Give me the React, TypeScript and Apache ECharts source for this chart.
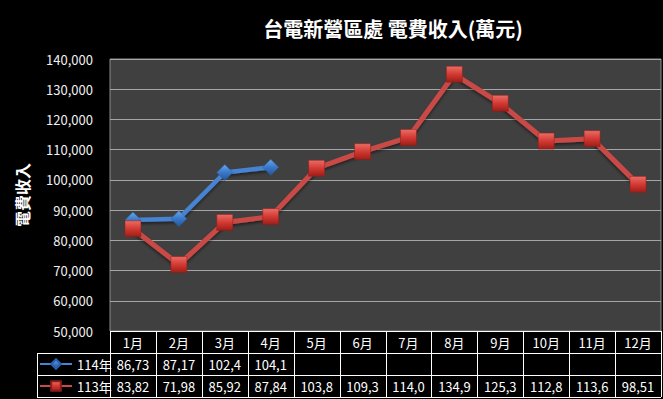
import React, { useEffect, useRef } from 'react';
import * as echarts from 'echarts';

const months = ['1月', '2月', '3月', '4月', '5月', '6月', '7月', '8月', '9月', '10月', '11月', '12月'];
const name114 = '114年';
const name113 = '113年';
const values114 = [86735, 87175, 102450, 104150];
const values113 = [83825, 71985, 85925, 87845, 103850, 109350, 114050, 134950, 125350, 112850, 113650, 98515];
const yMin = 50000;
const yMax = 140000;
const yStep = 10000;
const titleText = '台電新營區處 電費收入(萬元)';
const yAxisTitle = '電費收入';

const FONT = '"Noto Sans CJK TC", "Noto Sans", sans-serif';

// layout
const GL = 110;
const GT = 59;
const GW = 551;
const GH = 272;
const ROW = 22;
const LEG_L = 37;

const fmtCell = (v: number | undefined) =>
  v === undefined ? '' : v.toLocaleString('en-US').slice(0, 5);

export default function App() {
  const ref = useRef<HTMLDivElement>(null);
  useEffect(() => {
    if (!ref.current) return;
    const chart = echarts.init(ref.current, undefined, { renderer: 'svg' });
    const R = GL + GW;
    const B = GT + GH;
    const colW = GW / months.length;
    const lines: any[] = [];
    const ln = (x1: number, y1: number, x2: number, y2: number) =>
      lines.push({
        type: 'line',
        z: 100,
        shape: { x1, y1, x2, y2 },
        style: { stroke: '#ffffff', lineWidth: 1 },
        silent: true,
      });
    ln(GL, B + 0.5, R, B + 0.5);
    for (let r = 1; r <= 3; r++) ln(LEG_L, B + r * ROW + 0.5, R, B + r * ROW + 0.5);
    for (let i = 0; i <= months.length; i++) {
      const x = Math.round(GL + i * colW) + 0.5;
      ln(x, B, x, B + 3 * ROW);
    }
    ln(LEG_L + 0.5, B + ROW, LEG_L + 0.5, B + 3 * ROW);

    const catAxis = (offset: number, fmt: (i: number) => string) => ({
      type: 'category',
      data: months,
      position: 'bottom',
      offset,
      boundaryGap: true,
      axisLine: { show: false },
      axisTick: { show: false },
      splitLine: { show: false },
      axisLabel: {
        interval: 0,
        margin: 11,
        verticalAlign: 'middle',
        color: '#ffffff',
        fontSize: 13,
        fontFamily: FONT,
        formatter: (_v: string, i: number) => fmt(i),
      },
    });

    const redMarker = new echarts.graphic.LinearGradient(0, 0, 0, 1, [
      { offset: 0, color: '#ea6d66' },
      { offset: 0.5, color: '#d23a33' },
      { offset: 1, color: '#9e1d18' },
    ]);
    const blueMarker = new echarts.graphic.LinearGradient(0, 0, 0, 1, [
      { offset: 0, color: '#6aa6ea' },
      { offset: 0.5, color: '#3a78c8' },
      { offset: 1, color: '#24559a' },
    ]);

    chart.setOption({
      animation: false,
      backgroundColor: '#000000',
      title: {
        text: titleText,
        left: 388,
        top: 13,
        textAlign: 'center',
        textStyle: { color: '#ffffff', fontSize: 20, fontWeight: 'bold', fontFamily: FONT },
      },
      legend: {
        data: [name114, name113],
        orient: 'vertical',
        left: LEG_L + 2,
        top: B + ROW + 4,
        padding: 0,
        itemWidth: 32,
        itemHeight: 12,
        itemGap: 8,
        textStyle: { color: '#ffffff', fontSize: 13, lineHeight: 14, fontFamily: FONT },
      },
      grid: {
        left: GL,
        top: GT,
        width: GW,
        height: GH,
        show: true,
        backgroundColor: '#404040',
        borderColor: '#8c8c8c',
        borderWidth: 1,
        outerBoundsMode: 'none',
        containLabel: false,
      },
      xAxis: [
        catAxis(0, (i) => months[i]),
        catAxis(ROW, (i) => fmtCell(values114[i])),
        catAxis(2 * ROW, (i) => fmtCell(values113[i])),
      ],
      yAxis: {
        type: 'value',
        min: yMin,
        max: yMax,
        interval: yStep,
        name: yAxisTitle,
        nameLocation: 'middle',
        nameRotate: 90,
        nameGap: 80,
        nameTextStyle: { color: '#ffffff', fontSize: 16, fontWeight: 'bold', fontFamily: FONT },
        axisLine: { show: false },
        axisTick: { show: false },
        splitLine: { lineStyle: { color: '#a6a6a6', width: 1 } },
        axisLabel: {
          color: '#f0f0f0',
          fontSize: 13,
          fontFamily: FONT,
          margin: 17,
          formatter: (v: number) => v.toLocaleString('en-US'),
        },
      },
      series: [
        {
          name: name114,
          type: 'line',
          data: values114,
          symbol: 'diamond',
          symbolSize: 16,
          lineStyle: { color: '#4683d0', width: 4.5, shadowColor: 'rgba(0,0,0,0.5)', shadowBlur: 3, shadowOffsetY: 2 },
          itemStyle: { color: blueMarker, borderColor: '#2a5fa8', borderWidth: 0.5 },
          z: 2,
        },
        {
          name: name113,
          type: 'line',
          data: values113,
          symbol: 'rect',
          symbolSize: 16,
          lineStyle: { color: '#c94a46', width: 5, shadowColor: 'rgba(0,0,0,0.5)', shadowBlur: 3, shadowOffsetY: 2 },
          itemStyle: { color: redMarker, borderColor: '#8e1c18', borderWidth: 0.5 },
          z: 3,
        },
      ],
      graphic: lines,
    });
    return () => chart.dispose();
  }, []);
  return (
    <div
      ref={ref}
      style={{ position: 'fixed', left: 0, top: 0, width: 663, height: 399, background: '#000' }}
    />
  );
}
